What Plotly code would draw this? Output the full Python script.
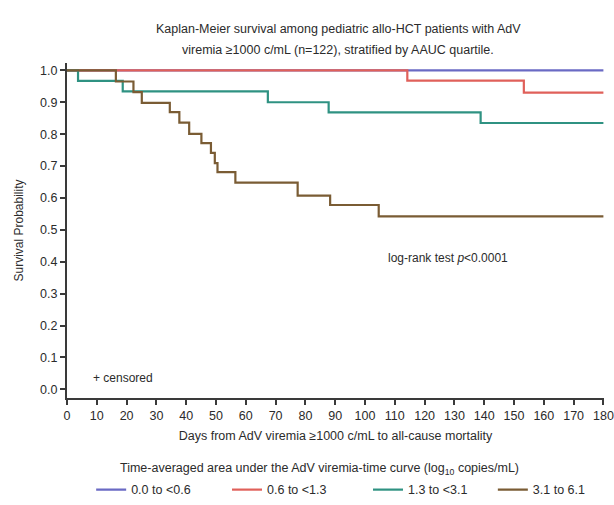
import plotly.graph_objects as go

# Kaplan-Meier step data per AAUC quartile (days, survival probability)
group_names = ["0.0 to <0.6", "0.6 to <1.3", "1.3 to <3.1", "3.1 to 6.1"]
group_colors = ["#6a6ac4", "#e0605a", "#2f9282", "#7a5c34"]

q1_days = [0, 180]
q1_surv = [1.0, 1.0]

q2_days = [0, 114.2, 153.3, 180]
q2_surv = [1.0, 0.968, 0.930, 0.930]

q3_days = [0, 3.7, 18.7, 67.4, 87.8, 138.8, 180]
q3_surv = [1.0, 0.967, 0.934, 0.900, 0.868, 0.835, 0.835]

q4_days = [0, 16.4, 22.3, 25.1, 34.5, 37.7, 41.0, 45.1, 48.3, 49.6, 50.5,
           56.5, 77.4, 88.3, 104.6, 180]
q4_surv = [1.0, 0.965, 0.932, 0.898, 0.869, 0.836, 0.801, 0.772, 0.741,
           0.709, 0.681, 0.648, 0.607, 0.578, 0.542, 0.542]

x_ticks = list(range(0, 181, 10))
y_ticks = [round(0.1 * i, 1) for i in range(11)]

title_lines = [
    "Kaplan-Meier survival among pediatric allo-HCT patients with AdV",
    "viremia \u22651000 c/mL (n=122), stratified by AAUC quartile.",
]

font_family = "Liberation Sans, Arial, sans-serif"
text_color = "#2b2b2b"

# one single-entry legend per group so the key row can be laid out freely
legend_ids = ["legend", "legend2", "legend3", "legend4"]
legend_x = [0.045, 0.298, 0.5605, 0.793]

fig = go.Figure()
series = [(q1_days, q1_surv), (q2_days, q2_surv), (q3_days, q3_surv), (q4_days, q4_surv)]
for (days, surv), name, color, lid in zip(series, group_names, group_colors, legend_ids):
    fig.add_trace(go.Scatter(
        x=days, y=surv, mode="lines", name=name, legend=lid,
        line=dict(color=color, width=2.2, shape="hv"),
    ))

legend_layout = {}
for lid, lx in zip(legend_ids, legend_x):
    legend_layout[lid] = dict(
        orientation="h", x=lx, xanchor="left", y=-0.2746, yanchor="middle",
        font=dict(size=12.5, color=text_color, family=font_family),
        bgcolor="rgba(0,0,0,0)",
    )

# chart title, two centred lines above the plot area
for line_text, ly in zip(title_lines, [1.1015, 1.0388]):
    fig.add_annotation(
        x=0.505, y=ly, xref="paper", yref="paper", xanchor="center", yanchor="middle",
        text=line_text, showarrow=False,
        font=dict(size=12.5, color=text_color, family=font_family),
    )
# heading of the key row
fig.add_annotation(
    x=0.471, y=-0.212, xref="paper", yref="paper", xanchor="center", yanchor="middle",
    text="Time-averaged area under the AdV viremia-time curve (log<sub>10</sub> copies/mL)",
    showarrow=False,
    font=dict(size=12.5, color=text_color, family=font_family),
)
fig.add_annotation(x=8, y=0.036, xref="x", yref="y", text="+ censored",
                   showarrow=False, xanchor="left",
                   font=dict(size=12, color=text_color, family=font_family))
fig.add_annotation(x=128, y=0.411, xref="x", yref="y",
                   text="log-rank test <i>p</i><0.0001",
                   showarrow=False, xanchor="center",
                   font=dict(size=12, color=text_color, family=font_family))

axis_common = dict(
    showline=True, linecolor="#3a3a3a", linewidth=2,
    ticks="outside", ticklen=5, tickwidth=1.5, tickcolor="#3a3a3a",
    showgrid=False, zeroline=False,
    tickfont=dict(size=12.5, color=text_color, family=font_family),
)

fig.update_layout(
    width=614, height=505,
    margin=dict(l=67, r=10, t=63, b=107, autoexpand=False),
    plot_bgcolor="white", paper_bgcolor="white",
    font=dict(family=font_family, color=text_color, size=12),
    xaxis=dict(range=[0, 180.2], tickvals=x_ticks, **axis_common,
               title=dict(text="Days from AdV viremia \u22651000 c/mL to all-cause mortality",
                          font=dict(size=12.5, color=text_color), standoff=9)),
    yaxis=dict(range=[-0.027, 1.023], tickvals=y_ticks, tickformat=".1f", **axis_common,
               title=dict(text="Survival Probability",
                          font=dict(size=12, color=text_color), standoff=14)),
    showlegend=True,
    **legend_layout,
)

fig.write_html("out.html")
